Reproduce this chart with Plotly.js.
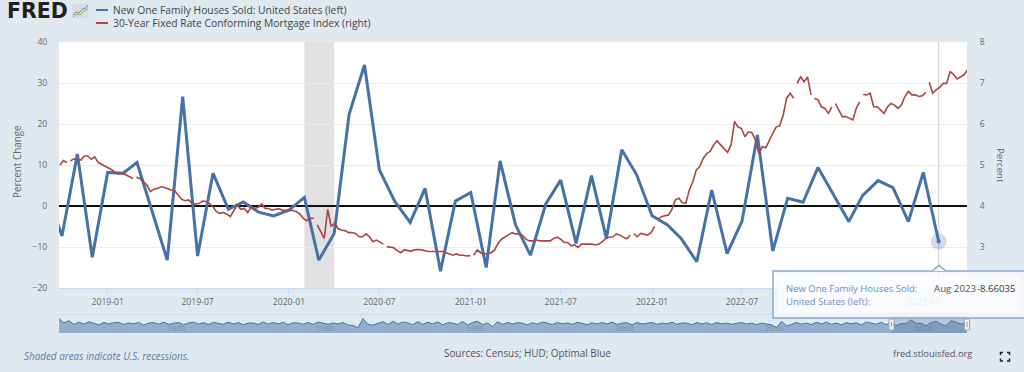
<!DOCTYPE html>
<html>
<head>
<meta charset="utf-8">
<script src="https://cdn.plot.ly/plotly-3.0.1.min.js"></script>
<style>html,body{margin:0;padding:0;background:#e1e9f0;overflow:hidden}#chart{width:1024px;height:372px}</style>
</head>
<body>
<div id="chart"></div>
<script>
// ---- Data ----
const tickDates = ['2019-01-01','2019-07-01','2020-01-01','2020-07-01','2021-01-01','2021-07-01','2022-01-01','2022-07-01','2023-01-01','2023-07-01'];
// the 2023-01 label cannot be seen in the reference: the tooltip text covers it
const tickLabels = ['2019-01','2019-07','2020-01','2020-07','2021-01','2021-07','2022-01','2022-07','','2023-07'];
const navTickDates = ['1970-01-01','1980-01-01','1990-01-01','2000-01-01','2010-01-01','2020-01-01'];
const navTickLabels = ['1970','1980','1990','2000','2010','2020'];

const salesStart = [2018, 9];
const salesChange = [
  3, -7.3, 12.7, -12.5,
  8.2, 8, 10.6, -1.4, -13.2, 26.7, -12.2, 8, -0.8, 1, -1.5, -2.4,
  -1, 2.1, -13.2, -6.7, 22.3, 34.4, 8.8, 1.1, -4, 4.3, -15.9, 1.2,
  3.3, -15, 11, -4.6, -12, 0.5, 6.3, -9.1, 7.4, -7.9, 13.7, 7.6,
  -2.4, -4.6, -8, -13.6, 3.9, -11.6, -3.7, 17.3, -11, 1.9, 0.9, 9.4,
  2.7, -3.8, 2.6, 6.2, 4.5, -3.8, 8.2, -8.66035
];

const mortgageStart = '2018-09-27';
const mortgageA = [5.0,5.11,5.06,5.10,5.15,5.14,5.12,5.22,5.22,5.14,5.20,5.06,5.02,4.98,4.92,4.88,4.80,4.78,4.80,4.76,4.70,4.67,4.70,4.67,4.59,4.51,4.35,4.41,4.43,4.47,4.45,4.41,4.39,4.37,4.27,4.16,4.13,4.15,4.06,4.05,4.06,4.12,4.11,4.06,3.98,3.86,3.82];
const mortgageB = [3.84,3.80,3.74,3.89,4.02,3.92,3.94,3.84,3.98,3.94,3.97,4.05,3.94,3.94,3.90,3.92,3.93,3.90,3.90,3.90,3.89,3.86,3.80,3.70,3.64,3.70,3.70,3.54,3.37,3.21,3.92,3.50,3.58,3.45,3.41,3.40,3.35,3.35,3.33,3.25,3.25,3.32,3.25,3.13,3.17,3.13,3.07,3.01,3.0];
const mortgageC = [2.98,2.91,2.86,2.93,2.91,2.90,2.93,2.94,2.93,2.91,2.89,2.89,2.89,2.89,2.89,2.86,2.82,2.80,2.83,2.80,2.80,2.78,2.79,2.80,2.93,2.86,2.83,2.84,2.86,2.93,3.09,3.19,3.24,3.29,3.35,3.32,3.32,3.29,3.19,3.15,3.15,3.17,3.15,3.15,3.15,3.15,3.21];
const mortgageD = [3.24,3.19,3.11,3.11,3.03,3.05,2.99,3.07,3.07,3.07,3.07,3.05,3.07,3.13,3.21,3.24,3.25,3.32,3.29,3.24,3.20,3.29,3.33,3.25,3.33,3.31,3.29,3.35,3.50,3.68,3.74,3.76,3.78,3.92,4.15,4.19,4.08,4.07,4.39,4.59,4.88,4.96,5.16,5.28,5.33,5.49,5.59,5.49];
const mortgageE = [5.41,5.31,5.49,6.06,5.93,5.89,5.69,5.81,5.79,5.61,5.28,5.45,5.42,5.61,5.77,5.93,5.96,6.22,6.63,6.75,6.63,6.99,7.15,7.03,7.15,6.71,6.63,6.59,6.42,6.38,6.26,6.42,6.50,6.34,6.18,6.18,6.14,6.10,6.38,6.54,6.72,6.71,6.75,6.42,6.42,6.34,6.26,6.42,6.50,6.46,6.38,6.46,6.67,6.80,6.71,6.71,6.67,6.69,6.77,7.02,6.75,6.83,6.89,6.99,6.99,7.28,7.21,7.10,7.15,7.20,7.32];
// positions in the weekly series after which the index line has a short break
const mortgageBreaks = [2, 21, 73, 93, 118, 164, 171, 211, 216, 222, 230, 249];

const navStart = 1963;
const navChange = [
  30,4,18,-6,9,-4,11,3,-8,7,-3,5,8,-6,4,-2,7,-9,3,6,-4,9,-5,2,6,-7,4,8,-3,5,
  -6,7,2,-5,9,-3,6,-8,4,3,-5,10,-4,6,-2,8,-7,5,3,-4,7,-6,9,2,-5,4,-3,6,-9,-12,
  -26,30,-4,-10,2,12,-6,14,-3,9,4,-7,12,-5,8,-2,10,-8,5,3,-6,13,-9,6,14,-7,4,-20,11,-5,
  7,-3,6,2,-8,5,-4,9,3,-6,7,-2,4,-5,8,2,-7,5,-3,6,-2,9,-6,3,5,-8,6,-3,4,7,
  -5,3,-2,8,-5,4,2,-7,6,-3,5,-6,7,-2,3,-5,2,6,-4,3,-7,2,-3,-8,-25,14,-14,-6,7,-4,
  3,-6,8,-3,9,-5,4,-8,6,-2,5,-9,10,2,-4,8,
  -7.3,8.2,-13.2,-0.8,-1,22.3,1.1,1.2,-15,6.3,13.7,-4.6,-13.6,17.3,9.4,-3.8,4.5,8.2,-8.66
];
const navFloor = -59;

// ---- Geometry helpers for the page furniture ----
const PX = x => (x - 59) / 908;
const PY = y => (333 - y) / 291;
const addDays = (s, d) => new Date(Date.parse(s + 'T00:00:00Z') + d * 864e5).toISOString();

const mortgageAll = [...mortgageA, ...mortgageB, ...mortgageC, ...mortgageD, ...mortgageE];
const mortgageDates = [], mortgage = [];
mortgageAll.forEach((v, i) => {
  mortgageDates.push(addDays(mortgageStart, i * 7).slice(0, 10));
  mortgage.push(v);
  if (mortgageBreaks.includes(i)) {
    mortgageDates.push(addDays(mortgageStart, i * 7 + 3.5).slice(0, 10));
    mortgage.push(null);
  }
});
const salesDates = salesChange.map((_, i) => {
  const m = salesStart[1] - 1 + i;
  return new Date(Date.UTC(salesStart[0] + Math.floor(m / 12), m % 12, 1)).toISOString().slice(0, 10);
});
const navDates = navChange.map((_, i) => {
  const m = i * 4;
  return new Date(Date.UTC(navStart + Math.floor(m / 12), m % 12, 1)).toISOString().slice(0, 10);
});
const lastDate = salesDates[salesDates.length - 1];
const lastValue = salesChange[salesChange.length - 1];

const BLUE = '#4572a7', RED = '#aa4643', FONT = '"Open Sans", sans-serif', GREY = '#666666';

const traces = [
  {x: mortgageDates, y: mortgage, xaxis: 'x', yaxis: 'y2', mode: 'lines', name: '30-Year Fixed Rate Conforming Mortgage Index (right)',
   connectgaps: false, line: {color: RED, width: 1.6}, hoverinfo: 'skip'},
  {x: salesDates, y: salesChange, xaxis: 'x', yaxis: 'y', mode: 'lines', name: 'New One Family Houses Sold: United States (left)',
   line: {color: BLUE, width: 3}, hoverinfo: 'skip'},
  {x: [lastDate], y: [lastValue], xaxis: 'x', yaxis: 'y', mode: 'markers', name: 'Hovered point halo',
   marker: {color: 'rgba(69,114,167,0.25)', size: 16}, hoverinfo: 'skip'},
  {x: [lastDate], y: [lastValue], xaxis: 'x', yaxis: 'y', mode: 'markers', name: 'Hovered point',
   marker: {color: BLUE, size: 4}, hoverinfo: 'skip'},
  {x: [navDates[0], navDates[navDates.length - 1]], y: [navFloor, navFloor], xaxis: 'x2', yaxis: 'y3', mode: 'lines', name: 'Navigator floor',
   line: {width: 0, color: 'rgba(0,0,0,0)'}, hoverinfo: 'skip'},
  {x: navDates, y: navChange, xaxis: 'x2', yaxis: 'y3', mode: 'lines', name: 'Navigator', fill: 'tonexty',
   fillcolor: 'rgba(69,114,167,0.5)', line: {color: BLUE, width: 1}, hoverinfo: 'skip'}
];

const pageRect = (x0, y0, x1, y1, extra) => Object.assign({type: 'rect', xref: 'paper', yref: 'paper',
  x0: PX(x0), x1: PX(x1), y0: PY(y1), y1: PY(y0), layer: 'above', line: {width: 0}}, extra);
const pagePath = (pts, extra) => Object.assign({type: 'path', xref: 'paper', yref: 'paper', layer: 'above',
  path: pts.map((p, i) => (i ? 'L' : 'M') + PX(p[0]) + ',' + PY(p[1])).join(' ')}, extra);

const shapes = [
  // white plot area and recession band
  {type: 'rect', xref: 'x domain', yref: 'y domain', x0: 0, x1: 1, y0: 0, y1: 1, layer: 'below', fillcolor: '#ffffff', line: {width: 0}},
  {type: 'rect', xref: 'x', yref: 'y domain', x0: '2020-02-01', x1: '2020-04-01', y0: 0, y1: 1, layer: 'below', fillcolor: '#e1e1e1', line: {width: 0}},
  // crosshair
  {type: 'line', xref: 'x', yref: 'y domain', x0: lastDate, x1: lastDate, y0: 0, y1: 1, layer: 'below', line: {color: '#cccccc', width: 1}},
  // legend keys
  pagePath([[96, 10], [108, 10]], {line: {color: BLUE, width: 2}}),
  pagePath([[96, 23], [108, 23]], {line: {color: RED, width: 2}}),
  // logo mark
  pageRect(72, 4, 88, 18, {fillcolor: '#dcdcdc'}),
  pagePath([[73, 15], [76, 12], [79, 13], [83, 8], [85, 9], [88, 5]], {line: {color: '#5f8fc2', width: 1}}),
  pagePath([[73, 17], [77, 14], [80, 15], [84, 11], [88, 9]], {line: {color: '#8fae55', width: 1}}),
  // navigator frame and selection
  pagePath([[59, 314.5], [967, 314.5]], {line: {color: '#cdd9e6', width: 1}}),
  {type: 'rect', xref: 'x2', yref: 'y3 domain', x0: '2018-09-27', x1: '2023-09-27', y0: 0, y1: 1, layer: 'above', fillcolor: 'rgba(69,114,167,0.28)', line: {width: 0}},
  pageRect(889, 319, 894, 330, {fillcolor: '#f2f2f2', line: {color: '#a8a8a8', width: 1}}),
  pagePath([[891.5, 322], [891.5, 327]], {line: {color: '#999999', width: 1}}),
  pageRect(964.5, 319, 969.5, 330, {fillcolor: '#f2f2f2', line: {color: '#a8a8a8', width: 1}}),
  pagePath([[967, 322], [967, 327]], {line: {color: '#999999', width: 1}}),
  // tooltip
  pageRect(773, 271, 1030, 318, {fillcolor: 'rgba(247,249,252,0.8)', line: {color: '#8ba6cb', width: 1.5}}),
  pageRect(778, 277, 1020, 312, {fillcolor: 'rgba(255,255,255,0.5)'}),
  pagePath([[932, 271], [939, 265.5], [946, 271]], {line: {color: '#8ba6cb', width: 1.5}, fillcolor: 'rgba(247,249,252,0.95)'}),
  // expand icon
  pagePath([[1000.5, 355], [1000.5, 352.5], [1003, 352.5]], {line: {color: '#222222', width: 1.5}}),
  pagePath([[1007, 352.5], [1009.5, 352.5], [1009.5, 355]], {line: {color: '#222222', width: 1.5}}),
  pagePath([[1000.5, 358.5], [1000.5, 361], [1003, 361]], {line: {color: '#222222', width: 1.5}}),
  pagePath([[1007, 361], [1009.5, 361], [1009.5, 358.5]], {line: {color: '#222222', width: 1.5}})
];

const note = (text, x, y, size, color, extra) => Object.assign({text, xref: 'paper', yref: 'paper', x: PX(x), y: PY(y),
  xanchor: 'left', yanchor: 'middle', showarrow: false, borderpad: 0, font: {family: FONT, size, color}}, extra);

const navNotes = navTickDates.map((d, i) => ({text: navTickLabels[i], xref: 'x2', yref: 'paper', x: d, y: PY(327), xshift: 2,
  xanchor: 'left', yanchor: 'middle', showarrow: false, borderpad: 0, font: {family: FONT, size: 8, color: 'rgba(110,120,135,0.6)'}}));

const annotations = [
  ...navNotes,
  note('FRED', 6, 11, 20.5, '#231f20', {font: {family: '"DejaVu Sans", sans-serif', size: 20.5, color: '#231f20', weight: 700}}),
  note(traces[1].name, 112, 10.5, 10.3, '#444444'),
  note(traces[0].name, 112, 23, 10.3, '#444444'),
  note('Percent Change', 17, 162, 9.9, GREY, {xanchor: 'center', textangle: -90}),
  note('Percent', 1001, 165, 9.6, GREY, {xanchor: 'center', textangle: 90}),
  note('New One Family Houses Sold:', 785, 288.5, 9.5, '#6d8fbe'),
  note('United States (left):', 785, 301, 9.5, '#6d8fbe'),
  note('Aug 2023', 933, 288.5, 9.7, '#555555'),
  note(lastValue.toFixed(5), 976, 288.5, 9.6, '#333333'),
  note('Shaded areas indicate U.S. recessions.', 23, 356, 9.9, '#5d7ba6', {font: {family: FONT, size: 9.9, color: '#5d7ba6', style: 'italic'}}),
  note('Sources: Census; HUD; Optimal Blue', 443, 353, 9.9, '#555555'),
  note('fred.stlouisfed.org', 892, 353, 9.3, '#555555')
];

const layout = {
  width: 1024, height: 372,
  margin: {l: 59, r: 57, t: 42, b: 39, pad: 0},
  paper_bgcolor: '#e1e9f0', plot_bgcolor: 'rgba(0,0,0,0)',
  showlegend: false, hovermode: false,
  font: {family: FONT, size: 9, color: GREY},
  xaxis: {domain: [0, 1], anchor: 'y', type: 'date', range: ['2018-09-25', '2023-09-27'],
    tickmode: 'array', tickvals: tickDates, ticktext: tickLabels, showgrid: false, showline: true, linecolor: '#ccd6eb', linewidth: 1,
    ticks: 'outside', ticklen: 6, tickcolor: '#ccd6eb', tickfont: {family: FONT, size: 8.6, color: GREY}},
  yaxis: {domain: [PY(288), 1], anchor: 'x', range: [-20, 40], tickmode: 'array', tickvals: [-20, -10, 0, 10, 20, 30, 40],
    gridcolor: '#ececec', gridwidth: 1, zeroline: true, zerolinecolor: '#111111', zerolinewidth: 2, ticks: 'outside', ticklen: 9, tickcolor: 'rgba(0,0,0,0)',
    tickfont: {family: FONT, size: 8.6, color: GREY}, automargin: false},
  yaxis2: {overlaying: 'y', side: 'right', anchor: 'x', range: [2, 8], tickmode: 'array', tickvals: [3, 4, 5, 6, 7, 8],
    showgrid: false, zeroline: false, ticks: 'outside', ticklen: 10, tickcolor: 'rgba(0,0,0,0)', tickfont: {family: FONT, size: 8.6, color: GREY}},
  xaxis2: {domain: [0, 1], anchor: 'y3', type: 'date', range: ['1963-01-01', '2023-09-27'],
    showticklabels: false, showgrid: false, showline: false, ticks: ''},
  yaxis3: {domain: [0, PY(316)], anchor: 'x2', range: [navFloor, 47], showgrid: false, zeroline: false, showticklabels: false, ticks: ''},
  shapes, annotations
};

Plotly.newPlot('chart', traces, layout, {displayModeBar: false, staticPlot: true});
</script>
</body>
</html>
